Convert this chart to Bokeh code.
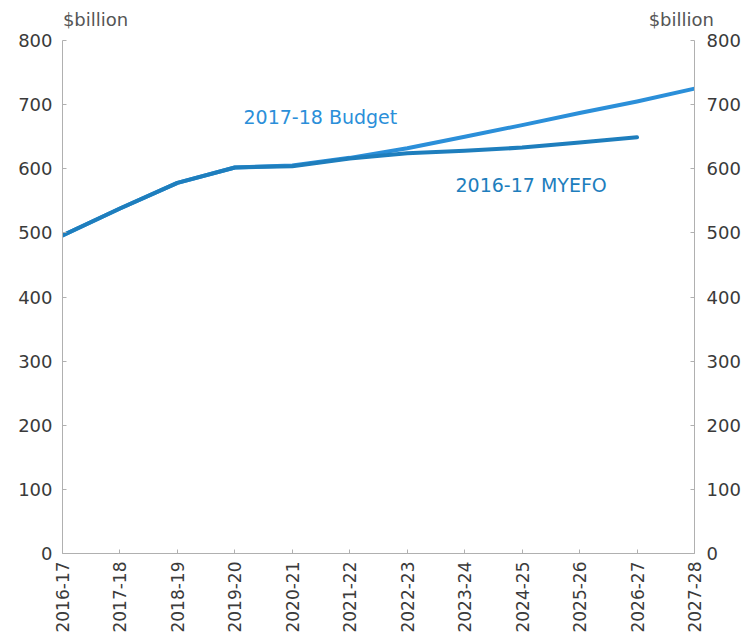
from bokeh.plotting import figure
from bokeh.models import Range1d, LinearAxis, FixedTicker, Label
from bokeh.embed import file_html
from bokeh.resources import INLINE
import math

years = ["2016-17", "2017-18", "2018-19", "2019-20", "2020-21", "2021-22",
         "2022-23", "2023-24", "2024-25", "2025-26", "2026-27", "2027-28"]
budget = [496, 538, 578, 602, 605, 617, 632, 650, 668, 687, 705, 725]
myefo = [496, 538, 578, 602, 604, 616, 624, 628, 633, 641, 649, float("nan")]
y_ticks = [0, 100, 200, 300, 400, 500, 600, 700, 800]
unit_label = "$billion"

xs = list(range(len(years)))

FONT = "DejaVu Sans"
AXIS_COL = "#b0b0b0"
TXT_COL = "#3a3a3a"
UNIT_COL = "#555555"
BUDGET_COL = "#2b8fd9"
MYEFO_COL = "#1e7ebd"

p = figure(width=742, height=641, output_backend="svg", toolbar_location=None,
           x_range=Range1d(0, len(years) - 1), y_range=Range1d(0, 800),
           frame_width=632, frame_height=513,
           min_border_left=62, min_border_right=48, min_border_top=40, min_border_bottom=88)
p.outline_line_color = None
p.xgrid.visible = False
p.ygrid.visible = False
p.background_fill_color = "white"
p.border_fill_color = "white"

# lines
p.line(xs, budget, line_color=BUDGET_COL, line_width=4, line_cap="round", line_join="round")
p.line(xs, myefo, line_color=MYEFO_COL, line_width=4, line_cap="round", line_join="round")

def style_axis(ax):
    ax.axis_line_color = AXIS_COL
    ax.major_tick_line_color = AXIS_COL
    ax.minor_tick_line_color = None
    ax.major_tick_in = 4
    ax.major_tick_out = 0
    ax.major_label_text_font = FONT
    ax.major_label_text_color = TXT_COL

# x axis
xa = p.xaxis[0]
style_axis(xa)
xa.ticker = FixedTicker(ticks=xs)
xa.major_label_overrides = {i: y for i, y in enumerate(years)}
xa.major_label_orientation = math.pi / 2
xa.major_label_text_font_size = "17px"
xa.major_label_standoff = 8

# left y axis
ya = p.yaxis[0]
style_axis(ya)
ya.ticker = FixedTicker(ticks=y_ticks)
ya.major_label_text_font_size = "18px"
ya.major_label_standoff = 10

# right y axis
ra = LinearAxis(ticker=FixedTicker(ticks=y_ticks))
style_axis(ra)
ra.major_label_text_font_size = "18px"
ra.major_label_standoff = 12
p.add_layout(ra, "right")

# unit labels above both y axes (placed as labels of a bare top axis)
unit_pos = [0.575, 10.77]
ta = LinearAxis(ticker=FixedTicker(ticks=unit_pos))
ta.axis_line_color = None
ta.major_tick_line_color = None
ta.minor_tick_line_color = None
ta.major_tick_in = 0
ta.major_tick_out = 0
ta.major_label_overrides = {v: unit_label for v in unit_pos}
ta.major_label_text_font = FONT
ta.major_label_text_font_size = "18px"
ta.major_label_text_color = UNIT_COL
ta.major_label_standoff = 11
p.add_layout(ta, "above")

# series labels
p.add_layout(Label(x=3.15, y=681, text="2017-18 Budget", text_font=FONT,
                   text_font_size="19px", text_color=BUDGET_COL,
                   text_align="left", text_baseline="middle"))
p.add_layout(Label(x=6.84, y=575, text="2016-17 MYEFO", text_font=FONT,
                   text_font_size="19px", text_color=MYEFO_COL,
                   text_align="left", text_baseline="middle"))

open("out.html", "w").write(file_html(p, INLINE))
